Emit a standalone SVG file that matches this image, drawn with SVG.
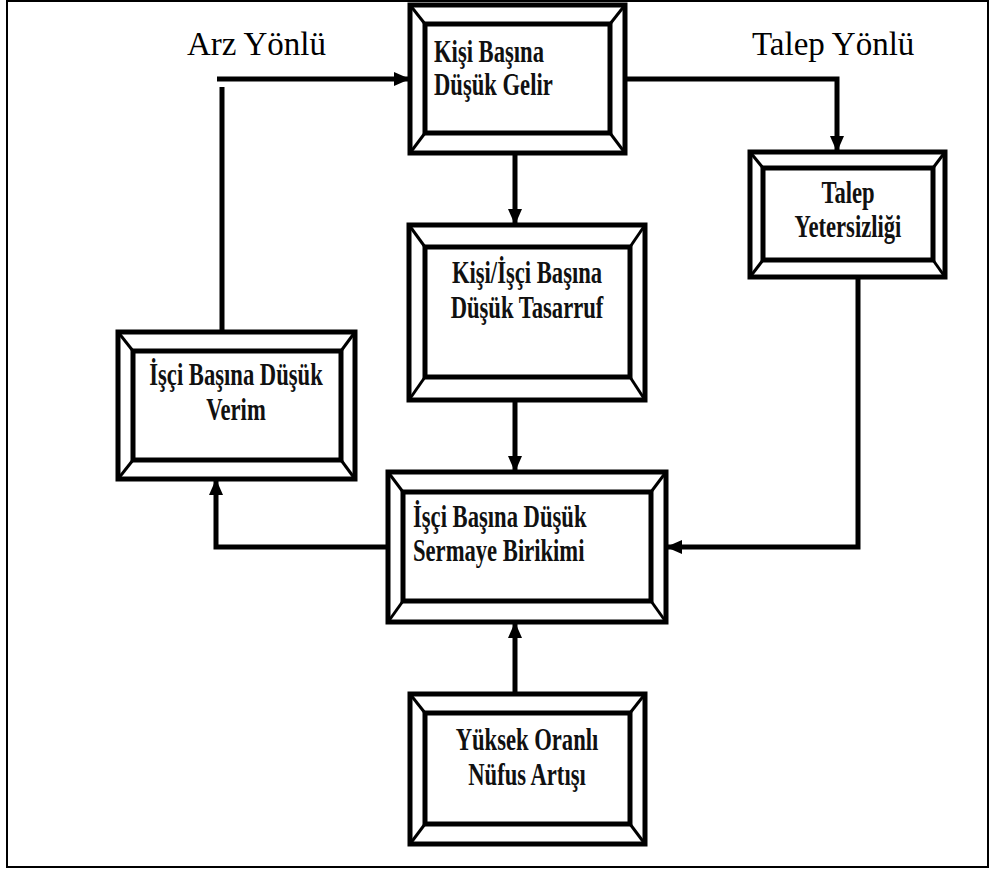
<svg xmlns="http://www.w3.org/2000/svg" width="990" height="871" viewBox="0 0 990 871">
<defs>
<marker id="ah" markerUnits="userSpaceOnUse" markerWidth="16" markerHeight="14" refX="16" refY="7" orient="auto">
<path d="M0,0 L16,7 L0,14 z" fill="#000"/>
</marker>
<style>
.o{fill:#fff;stroke:#000;stroke-width:5}
.i{fill:#fff;stroke:#000;stroke-width:5}
.d{stroke:#000;stroke-width:3}
.t{font-family:"Liberation Serif","Times New Roman",serif;font-weight:bold;font-size:31px;fill:#111}
.lbl{font-family:"Liberation Serif","Times New Roman",serif;font-size:33px;fill:#000}
.c{fill:none;stroke:#000;stroke-width:5}
</style>
</defs>
<rect x="7" y="1" width="981" height="866" fill="#fff" stroke="#000" stroke-width="2"/>
<text class="lbl" x="187" y="55">Arz Yönlü</text>
<text class="lbl" x="752" y="55">Talep Yönlü</text>
<g id="connectors">
<path class="c" d="M217,79 H410" marker-end="url(#ah)"/>
<path class="c" d="M222,87 V332"/>
<path class="c" d="M625,79 H837 V152" marker-end="url(#ah)"/>
<path class="c" d="M515,153 V225" marker-end="url(#ah)"/>
<path class="c" d="M515,400 V472" marker-end="url(#ah)"/>
<path class="c" d="M515,694 V622" marker-end="url(#ah)"/>
<path class="c" d="M858,277 V547 H666" marker-end="url(#ah)"/>
<path class="c" d="M388,547 H216 V479" marker-end="url(#ah)"/>
</g>
<g id="n1">
<rect class="o" x="410" y="5" width="215" height="148"/>
<line class="d" x1="410" y1="5" x2="425" y2="24"/><line class="d" x1="625" y1="5" x2="610" y2="24"/>
<line class="d" x1="410" y1="153" x2="425" y2="133"/><line class="d" x1="625" y1="153" x2="610" y2="133"/>
<rect class="i" x="425" y="24" width="185" height="109"/>
<text class="t" transform="translate(434,0) scale(0.73,1)"><tspan x="0" y="62">Kişi Başına</tspan><tspan x="0" y="95">Düşük Gelir</tspan></text>
</g>
<g id="n2">
<rect class="o" x="750" y="152" width="195" height="125"/>
<line class="d" x1="750" y1="152" x2="763" y2="168"/><line class="d" x1="945" y1="152" x2="933" y2="168"/>
<line class="d" x1="750" y1="277" x2="763" y2="260"/><line class="d" x1="945" y1="277" x2="933" y2="260"/>
<rect class="i" x="763" y="168" width="170" height="92"/>
<text class="t" text-anchor="middle" transform="translate(848,0) scale(0.73,1)"><tspan x="0" y="203">Talep</tspan><tspan x="0" y="237">Yetersizliği</tspan></text>
</g>
<g id="n3">
<rect class="o" x="118" y="332" width="237" height="147"/>
<line class="d" x1="118" y1="332" x2="133" y2="351"/><line class="d" x1="355" y1="332" x2="341" y2="351"/>
<line class="d" x1="118" y1="479" x2="133" y2="460"/><line class="d" x1="355" y1="479" x2="341" y2="460"/>
<rect class="i" x="133" y="351" width="208" height="109"/>
<text class="t" text-anchor="middle" transform="translate(236,0) scale(0.73,1)"><tspan x="0" y="385">İşçi Başına Düşük</tspan><tspan x="0" y="420">Verim</tspan></text>
</g>
<g id="n4">
<rect class="o" x="409" y="225" width="236" height="175"/>
<line class="d" x1="409" y1="225" x2="425" y2="247"/><line class="d" x1="645" y1="225" x2="630" y2="247"/>
<line class="d" x1="409" y1="400" x2="425" y2="377"/><line class="d" x1="645" y1="400" x2="630" y2="377"/>
<rect class="i" x="425" y="247" width="205" height="130"/>
<text class="t" text-anchor="middle" transform="translate(527,0) scale(0.73,1)"><tspan x="0" y="283">Kişi/İşçi Başına</tspan><tspan x="0" y="318">Düşük Tasarruf</tspan></text>
</g>
<g id="n5">
<rect class="o" x="388" y="472" width="278" height="150"/>
<line class="d" x1="388" y1="472" x2="403" y2="492"/><line class="d" x1="666" y1="472" x2="651" y2="492"/>
<line class="d" x1="388" y1="622" x2="403" y2="601"/><line class="d" x1="666" y1="622" x2="651" y2="601"/>
<rect class="i" x="403" y="492" width="248" height="109"/>
<text class="t" transform="translate(413,0) scale(0.73,1)"><tspan x="0" y="527">İşçi Başına Düşük</tspan><tspan x="0" y="561">Sermaye Birikimi</tspan></text>
</g>
<g id="n6">
<rect class="o" x="410" y="694" width="235" height="150"/>
<line class="d" x1="410" y1="694" x2="425" y2="713"/><line class="d" x1="645" y1="694" x2="630" y2="713"/>
<line class="d" x1="410" y1="844" x2="425" y2="824"/><line class="d" x1="645" y1="844" x2="630" y2="824"/>
<rect class="i" x="425" y="713" width="205" height="111"/>
<text class="t" text-anchor="middle" transform="translate(527,0) scale(0.73,1)"><tspan x="0" y="750">Yüksek Oranlı</tspan><tspan x="0" y="785">Nüfus Artışı</tspan></text>
</g>
</svg>
